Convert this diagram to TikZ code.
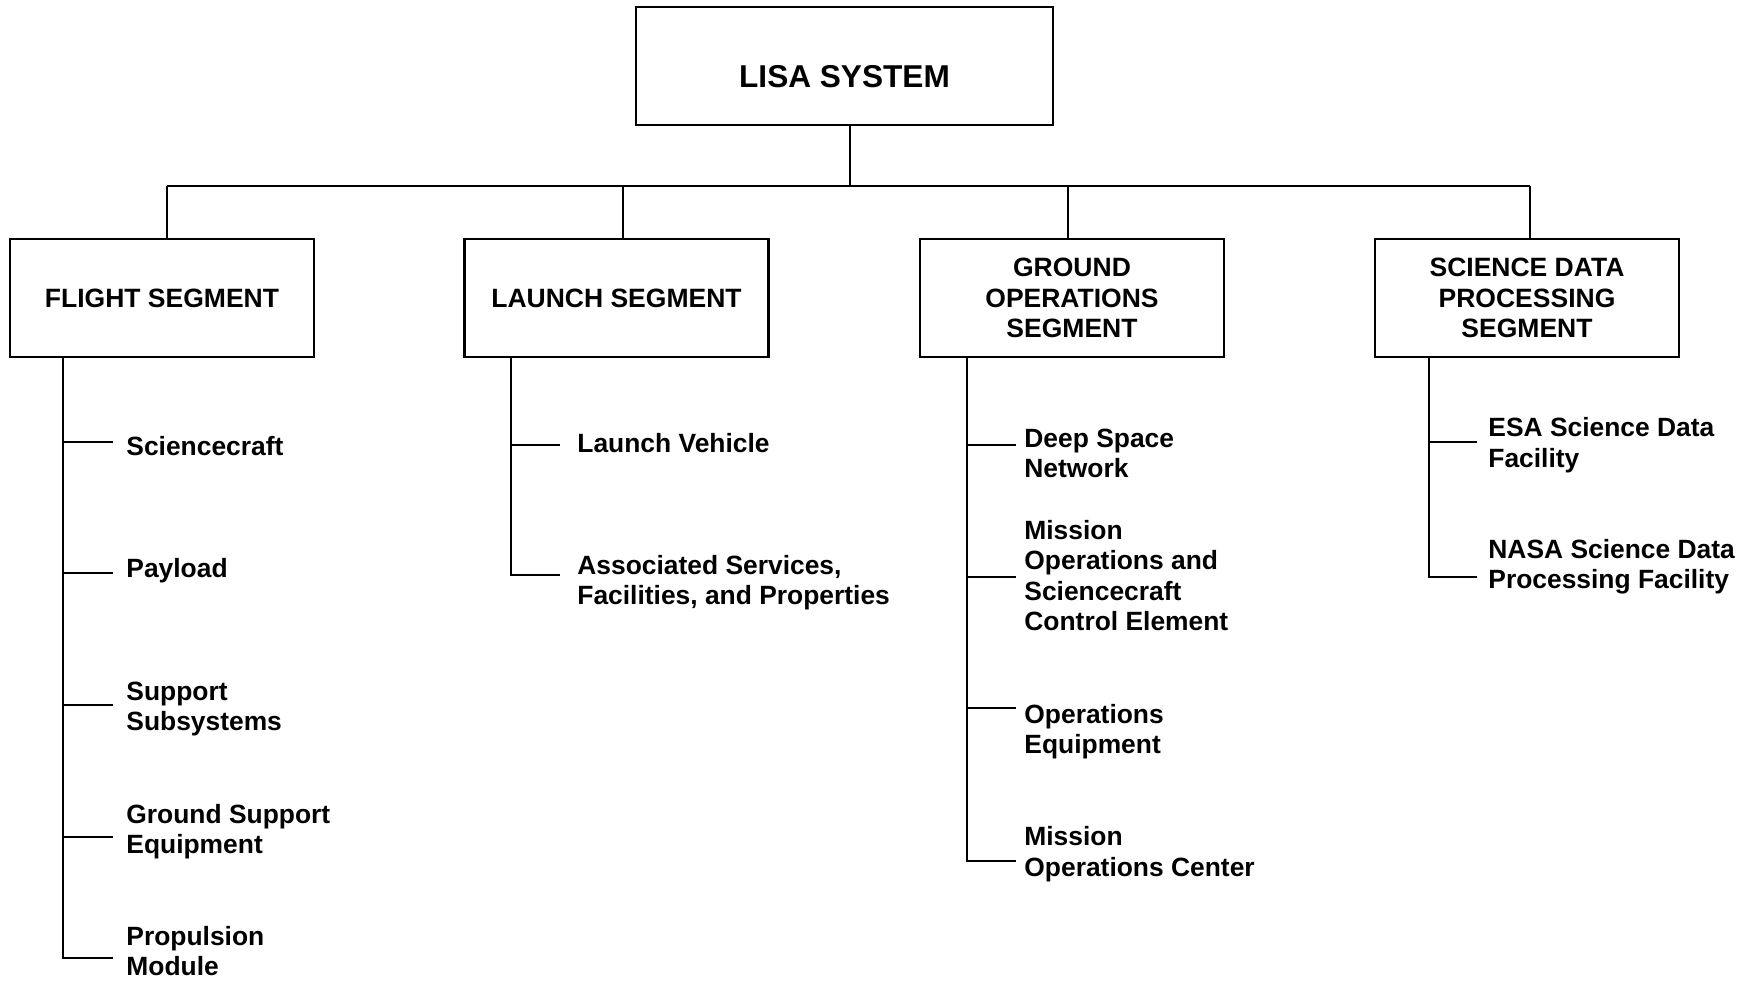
\documentclass[tikz,border=0pt]{standalone}
\usepackage{fontspec}
\setmainfont{Liberation Sans}
\begin{document}
\begin{tikzpicture}[x=0.5pt,y=-0.5pt,
  box/.style={draw,line width=1.2pt,rectangle,inner sep=0pt,
    minimum width=152pt,minimum height=59pt,align=center,
    font=\bfseries\fontsize{13.25pt}{15.4pt}\selectfont},
  titlebox/.style={draw,line width=1.2pt,rectangle,inner sep=0pt,
    minimum width=208.5pt,minimum height=59pt,text height=21.3pt,text depth=0pt,
    font=\bfseries\fontsize{15.8pt}{18pt}\selectfont},
  leaf/.style={inner sep=0pt,anchor=base west,align=left,
    font=\bfseries\fontsize{13.2pt}{15.25pt}\selectfont},
  wire/.style={line width=1pt}]
\useasboundingbox (0,0) rectangle (1756,982);

% top
\node[titlebox] (lisa) at (844.5,66) {LISA SYSTEM};

% segment boxes
\node[box] (fseg) at (162,298) {FLIGHT SEGMENT};
\node[box] (lseg) at (616.5,298) {LAUNCH SEGMENT};
\node[box] (gseg) at (1072,298) {GROUND\\OPERATIONS\\SEGMENT};
\node[box] (sseg) at (1527,298) {SCIENCE DATA\\PROCESSING\\SEGMENT};

% bus
\coordinate (cl) at (850,186);
\coordinate (cf) at (167,186);
\coordinate (cla) at (623,186);
\coordinate (cg) at (1068,186);
\coordinate (cs) at (1530,186);
\draw[wire] (cl |- lisa.south) -- (cl);
\draw[wire] (cf) -- (cs);
\draw[wire] (cf) -- (cf |- fseg.north);
\draw[wire] (cla) -- (cla |- lseg.north);
\draw[wire] (cg) -- (cg |- gseg.north);
\draw[wire] (cs) -- (cs |- sseg.north);

% flight leaves (anchor at baseline of last line)
\node[leaf] (f1) at (126,455.8) {Sciencecraft};
\node[leaf] (f2) at (126,577.7) {Payload};
\node[leaf] (f3) at (126,730.8) {Support\\Subsystems};
\node[leaf] (f4) at (126,853.7) {Ground Support\\Equipment};
\node[leaf] (f5) at (126,975.5) {Propulsion\\Module};
\coordinate (ft1) at (63,441.5); \coordinate (fe1) at (113,441.5);
\coordinate (ft2) at (63,573.4); \coordinate (fe2) at (113,573.4);
\coordinate (ft3) at (63,705);   \coordinate (fe3) at (113,705);
\coordinate (ft4) at (63,836.5); \coordinate (fe4) at (113,836.5);
\coordinate (ft5) at (63,957.6); \coordinate (fe5) at (113,957.6);
\draw[wire] (ft1 |- fseg.south) -- (ft5) -- (fe5);
\foreach \i in {1,2,3,4} \draw[wire] (ft\i) -- (fe\i);

% launch leaves
\node[leaf] (l1) at (577,452) {Launch Vehicle};
\node[leaf] (l2) at (577,604.5) {Associated Services,\\Facilities, and Properties};
\coordinate (lt1) at (511,445); \coordinate (le1) at (560,445);
\coordinate (lt2) at (511,575); \coordinate (le2) at (560,575);
\draw[wire] (lt1 |- lseg.south) -- (lt2) -- (le2);
\draw[wire] (lt1) -- (le1);

% ground leaves
\node[leaf] (g1) at (1024,477.5) {Deep Space\\Network};
\node[leaf] (g2) at (1024,630.5) {Mission\\Operations and\\Sciencecraft\\Control Element};
\node[leaf] (g3) at (1024,753.8) {Operations\\Equipment};
\node[leaf] (g4) at (1024,876.2) {Mission\\Operations Center};
\coordinate (gt1) at (967,445);   \coordinate (ge1) at (1016,445);
\coordinate (gt2) at (967,576.7); \coordinate (ge2) at (1016,576.7);
\coordinate (gt3) at (967,707.7); \coordinate (ge3) at (1016,707.7);
\coordinate (gt4) at (967,860.7); \coordinate (ge4) at (1016,860.7);
\draw[wire] (gt1 |- gseg.south) -- (gt4) -- (ge4);
\foreach \i in {1,2,3} \draw[wire] (gt\i) -- (ge\i);

% science leaves
\node[leaf] (s1) at (1488,467.2) {ESA Science Data\\Facility};
\node[leaf] (s2) at (1488,588.8) {NASA Science Data\\Processing Facility};
\coordinate (st1) at (1429,441.7); \coordinate (se1) at (1477,441.7);
\coordinate (st2) at (1429,576.7); \coordinate (se2) at (1477,576.7);
\draw[wire] (st1 |- sseg.south) -- (st2) -- (se2);
\draw[wire] (st1) -- (se1);
\end{tikzpicture}
\end{document}
